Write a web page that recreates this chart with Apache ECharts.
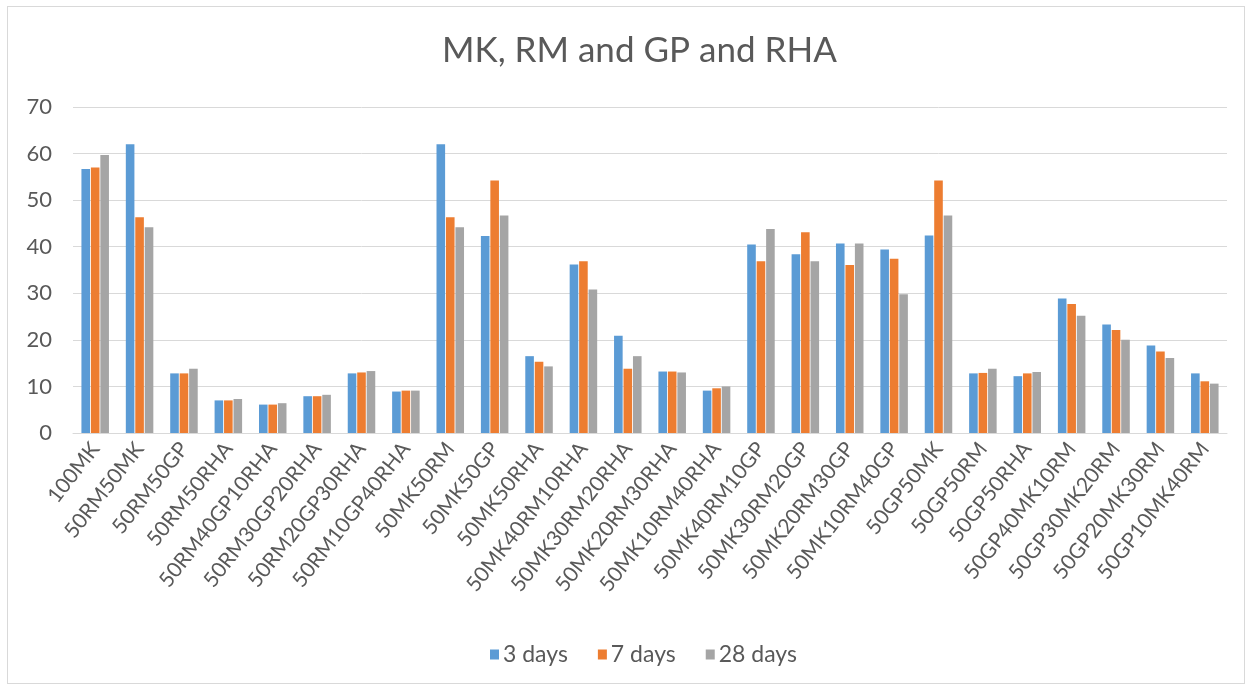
<!DOCTYPE html>
<html>
<head>
<meta charset="utf-8">
<script src="https://cdn.jsdelivr.net/npm/echarts@6/dist/echarts.min.js"></script>
<style>
html,body{margin:0;padding:0;background:#fff;}
#frame{position:absolute;left:7px;top:6px;width:1238px;height:678px;border:1px solid #d9d9d9;box-sizing:border-box;}
#c{position:absolute;left:0;top:0;width:1248px;height:686px;}
</style>
</head>
<body>
<div id="frame"></div>
<div id="c"></div>
<script>
const categories = ["100MK","50RM50MK","50RM50GP","50RM50RHA","50RM40GP10RHA","50RM30GP20RHA","50RM20GP30RHA","50RM10GP40RHA","50MK50RM","50MK50GP","50MK50RHA","50MK40RM10RHA","50MK30RM20RHA","50MK20RM30RHA","50MK10RM40RHA","50MK40RM10GP","50MK30RM20GP","50MK20RM30GP","50MK10RM40GP","50GP50MK","50GP50RM","50GP50RHA","50GP40MK10RM","50GP30MK20RM","50GP20MK30RM","50GP10MK40RM"];
const days3 = [56.7,62.0,12.8,7.0,6.1,7.9,12.8,8.9,62.0,42.3,16.5,36.2,20.9,13.2,9.1,40.5,38.4,40.7,39.4,42.4,12.8,12.2,28.9,23.3,18.8,12.8];
const days7 = [57.0,46.3,12.8,7.0,6.1,7.9,13.0,9.1,46.3,54.2,15.3,36.9,13.8,13.2,9.6,36.9,43.1,36.1,37.4,54.2,12.9,12.8,27.7,22.1,17.5,11.1];
const days28 = [59.7,44.2,13.8,7.3,6.4,8.2,13.3,9.1,44.2,46.7,14.3,30.8,16.5,13.0,10.0,43.8,36.9,40.7,29.8,46.7,13.8,13.1,25.2,20.0,16.1,10.6];
const seriesNames = ["3 days","7 days","28 days"];
const colors = ["#5B9BD5","#ED7D31","#A5A5A5"];
const yTicks = {min:0,max:70,interval:10};

const chart = echarts.init(document.getElementById('c'), null, {renderer:'canvas'});
const font = 'Lato, "Open Sans", sans-serif';
const dataSets = [days3, days7, days28];
chart.setOption({
  animation:false,
  backgroundColor:'transparent',
  color:colors,
  title:{text:'MK, RM and GP and RHA',left:437,top:28,
    textStyle:{fontFamily:font,fontSize:35,fontWeight:'normal',color:'#595959'}},
  legend:{data:seriesNames,left:485,top:638,itemWidth:9,itemHeight:10,itemGap:30,icon:'rect',
    textStyle:{fontFamily:font,fontSize:23,color:'#595959',padding:[0,0,0,-1]}},
  grid:{left:73,right:21,top:107,bottom:253,containLabel:false},
  xAxis:{type:'category',data:categories,
    axisLine:{lineStyle:{color:'#d9d9d9'}},axisTick:{show:false},
    axisLabel:{rotate:52,interval:0,fontFamily:font,fontSize:21,color:'#595959',margin:12}},
  yAxis:{type:'value',min:yTicks.min,max:yTicks.max,interval:yTicks.interval,
    axisLine:{show:false},axisTick:{show:false},
    splitLine:{lineStyle:{color:'#d9d9d9'}},
    axisLabel:{fontFamily:font,fontSize:22,color:'#595959',margin:21}},
  series: seriesNames.map((n,i)=>({name:n,type:'bar',data:dataSets[i],barGap:'10%',barCategoryGap:'38%'}))
});
</script>
</body>
</html>
